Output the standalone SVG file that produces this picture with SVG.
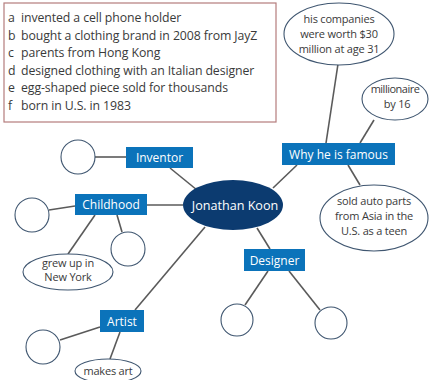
<svg xmlns="http://www.w3.org/2000/svg" width="429" height="380" viewBox="0 0 429 380">
<style>
.txt{font-family:"Open Sans","Noto Sans",sans-serif;fill:#3a3a3a;}
.list{font-size:12.3px;letter-spacing:-0.1px;}
.lbl{font-family:"Open Sans","Noto Sans",sans-serif;fill:#ffffff;font-size:12px;text-anchor:middle;}
.big{font-size:12.6px;}
.ell{font-size:11px;text-anchor:middle;letter-spacing:-0.2px;}
.box{fill:#0b73ba;}
.circ{fill:#ffffff;stroke:#3f5670;stroke-width:1.1;}
.oval{fill:#ffffff;stroke:#3f5670;stroke-width:1.1;}
.conn line{stroke:#5a5a5a;stroke-width:1.6;}
</style>
<rect width="429" height="380" fill="#ffffff"/>
<g id="list">
<rect x="4" y="3" width="272" height="119" fill="#ffffff" stroke="#b47c7c" stroke-width="1.2"/>
<text class="txt list" x="8" y="22">a</text><text class="txt list" x="21" y="22">invented a cell phone holder</text>
<text class="txt list" x="8" y="39.5">b</text><text class="txt list" x="21" y="39.5">bought a clothing brand in 2008 from JayZ</text>
<text class="txt list" x="8" y="57">c</text><text class="txt list" x="21" y="57">parents from Hong Kong</text>
<text class="txt list" x="8" y="74.5">d</text><text class="txt list" x="21" y="74.5">designed clothing with an Italian designer</text>
<text class="txt list" x="8" y="92">e</text><text class="txt list" x="21" y="92">egg-shaped piece sold for thousands</text>
<text class="txt list" x="8" y="109.5">f</text><text class="txt list" x="21" y="109.5">born in U.S. in 1983</text>
</g>
<g class="conn" id="connectors">
<line x1="338" y1="64" x2="326" y2="143"/>
<line x1="374" y1="120" x2="360" y2="143"/>
<line x1="348" y1="165" x2="360" y2="185"/>
<line x1="273" y1="188" x2="297" y2="165"/>
<line x1="95" y1="157" x2="126" y2="157"/>
<line x1="170" y1="168" x2="197" y2="190"/>
<line x1="147" y1="205" x2="183" y2="205"/>
<line x1="49" y1="210" x2="75" y2="206"/>
<line x1="95" y1="215" x2="68" y2="254"/>
<line x1="117" y1="215" x2="122" y2="232"/>
<line x1="205" y1="227" x2="135" y2="310"/>
<line x1="60" y1="340" x2="100" y2="327"/>
<line x1="120" y1="332" x2="110" y2="359"/>
<line x1="257" y1="228" x2="270" y2="249"/>
<line x1="268" y1="271" x2="245" y2="305"/>
<line x1="289" y1="271" x2="320" y2="310"/>
</g>
<g id="companies">
<ellipse class="oval" cx="339" cy="34" rx="55" ry="31"/>
<text class="txt ell" x="339" y="23">his companies</text>
<text class="txt ell" x="339" y="38">were worth $30</text>
<text class="txt ell" x="339" y="53">million at age 31</text>
</g>
<g id="millionaire">
<ellipse class="oval" cx="395" cy="99" rx="33" ry="21"/>
<text class="txt ell" x="395" y="93" style="letter-spacing:-0.5px">millionaire</text>
<text class="txt ell" x="397" y="108">by 16</text>
</g>
<g id="famous">
<rect class="box" x="282" y="143" width="113" height="22"/>
<text class="lbl" x="338.5" y="158.5">Why he is famous</text>
</g>
<g id="autoparts">
<ellipse class="oval" cx="374" cy="218" rx="54" ry="33"/>
<text class="txt ell" x="374" y="205">sold auto parts</text>
<text class="txt ell" x="374" y="220">from Asia in the</text>
<text class="txt ell" x="374" y="235">U.S. as a teen</text>
</g>
<g id="jonathan">
<ellipse cx="233" cy="205" rx="50" ry="25" fill="#0c3b70"/>
<text class="lbl big" x="235" y="209.5">Jonathan Koon</text>
</g>
<g id="inventor">
<circle class="circ" cx="78" cy="157" r="17"/>
<rect class="box" x="126" y="147" width="67" height="21"/>
<text class="lbl" x="159.5" y="162">Inventor</text>
</g>
<g id="childhood">
<circle class="circ" cx="32" cy="215" r="17"/>
<circle class="circ" cx="128" cy="249" r="17"/>
<rect class="box" x="75" y="194" width="72" height="21"/>
<text class="lbl" x="111" y="209">Childhood</text>
<ellipse class="oval" cx="68" cy="272" rx="45" ry="18"/>
<text class="txt ell" x="68" y="267">grew up in</text>
<text class="txt ell" x="68" y="281">New York</text>
</g>
<g id="artist">
<rect class="box" x="100" y="310" width="44" height="22"/>
<text class="lbl" x="122" y="325.5">Artist</text>
<circle class="circ" cx="43" cy="347" r="17"/>
<ellipse class="oval" cx="108" cy="371" rx="33" ry="12"/>
<text class="txt ell" x="108" y="375">makes art</text>
</g>
<g id="designer">
<rect class="box" x="244" y="249" width="61" height="22"/>
<text class="lbl" x="274.5" y="264.5">Designer</text>
<circle class="circ" cx="237" cy="320" r="16"/>
<circle class="circ" cx="331" cy="323" r="16"/>
</g>
</svg>
